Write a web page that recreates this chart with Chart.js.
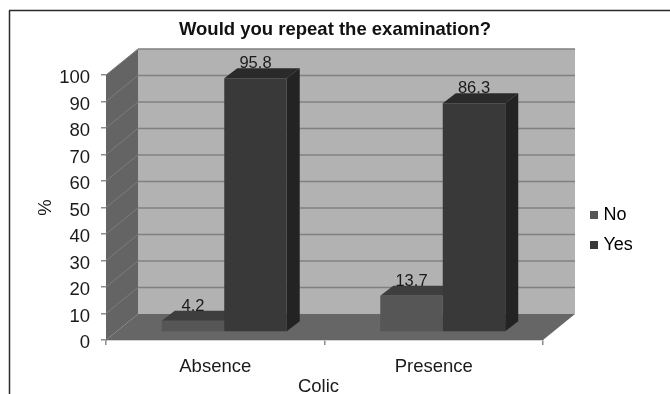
<!DOCTYPE html>
<html lang="en">
<head>
<meta charset="UTF-8">
<title>Would you repeat the examination?</title>
<script src="https://cdn.jsdelivr.net/npm/chart.js@4/dist/chart.umd.min.js"></script>
<style>
    html, body { margin:0; padding:0; background:#fff; }
    #wrap { width:670px; height:394px; }
</style>
</head>
<body>
<div id="wrap"><canvas id="myChart" width="670" height="394"></canvas></div>
<script>
    var v_categories = ["Absence", "Presence"];
    var v_no = [4.2, 13.7];
    var v_yes = [95.8, 86.3];
    var v_yTicks = [0, 10, 20, 30, 40, 50, 60, 70, 80, 90, 100];

    var FONT = "'Liberation Sans', Arial, sans-serif";
    // depth of the box walls and of the bars, in px
    var WALL = { x: 32, y: -26 };
    var BAR_SHIFT = { x: 9, y: -8 };
    var BAR_DEPTH = { x: 13, y: -10 };

    function f_poly(ctx, color, pts) {
        ctx.fillStyle = color;
        ctx.beginPath();
        ctx.moveTo(pts[0][0], pts[0][1]);
        for (var i = 1; i < pts.length; i++) ctx.lineTo(pts[i][0], pts[i][1]);
        ctx.closePath();
        ctx.fill();
    }

    function f_line(ctx, color, w, x1, y1, x2, y2) {
        ctx.strokeStyle = color;
        ctx.lineWidth = w;
        ctx.beginPath();
        ctx.moveTo(x1, y1);
        ctx.lineTo(x2, y2);
        ctx.stroke();
    }

    // page frame, floor and walls of the 3D box
    var boxPlugin = {
        id: "box",
        afterLayout: function(chart) {
            // legend sits lower and further right than the layout would put it
            var lg = chart.legend;
            lg.left = 581.5; lg.right = 668;
            lg.top = 194; lg.bottom = 272;
            // title centred on the whole page, not on the plot
            chart.titleBlock.left = 0;
            chart.titleBlock.right = 670;
        },
        beforeDatasetsDraw: function(chart) {
            var ctx = chart.ctx, a = chart.chartArea, y = chart.scales.y;
            var y0 = y.getPixelForValue(0), y100 = y.getPixelForValue(100);
            ctx.save();
            f_line(ctx, "#2b2b2b", 1.5, 9.5, 394, 9.5, 10.5);
            f_line(ctx, "#2b2b2b", 1.5, 9, 10.5, 670, 10.5);

            f_poly(ctx, "#b2b2b2", [[a.left + WALL.x, y100 + WALL.y], [a.right + WALL.x, y100 + WALL.y],
                                    [a.right + WALL.x, y0 + WALL.y], [a.left + WALL.x, y0 + WALL.y]]);
            f_poly(ctx, "#646464", [[a.left, y100], [a.left + WALL.x, y100 + WALL.y],
                                    [a.left + WALL.x, y0 + WALL.y], [a.left, y0]]);
            f_poly(ctx, "#666666", [[a.left, y0], [a.left + WALL.x, y0 + WALL.y],
                                    [a.right + WALL.x, y0 + WALL.y], [a.right, y0]]);

            v_yTicks.forEach(function(t) {
                var py = y.getPixelForValue(t);
                if (t > 0) {
                    f_line(ctx, "#7c7c7c", 1, a.left, py, a.left + WALL.x, py + WALL.y);
                    f_line(ctx, "#808080", 1.5, a.left + WALL.x, py + WALL.y, a.right + WALL.x, py + WALL.y);
                }
            });

            // top and side faces first: chart.js paints the last dataset first, "No" front
            // would otherwise end up under the faces of "Yes"
            ctx.translate(BAR_SHIFT.x, BAR_SHIFT.y);
            chart.data.datasets.forEach(function(ds, i) {
                chart.getDatasetMeta(i).data.forEach(function(bar) {
                    var l = bar.x - bar.width / 2, r = bar.x + bar.width / 2;
                    f_poly(ctx, ds.v_topColor, [[l, bar.y], [l + BAR_DEPTH.x, bar.y + BAR_DEPTH.y],
                                                [r + BAR_DEPTH.x, bar.y + BAR_DEPTH.y], [r, bar.y]]);
                    f_poly(ctx, ds.v_sideColor, [[r, bar.y], [r + BAR_DEPTH.x, bar.y + BAR_DEPTH.y],
                                                 [r + BAR_DEPTH.x, bar.base + BAR_DEPTH.y], [r, bar.base]]);
                });
            });
            ctx.restore();
        },
        // bars stand in the middle of the floor, so shift them off the axis
        beforeDatasetDraw: function(chart) {
            chart.ctx.save();
            chart.ctx.translate(BAR_SHIFT.x, BAR_SHIFT.y);
        },
        afterDatasetDraw: function(chart) {
            chart.ctx.restore();
        },
        afterDatasetsDraw: function(chart) {
            // value labels above each bar
            var ctx = chart.ctx;
            ctx.save();
            ctx.font = "16.5px " + FONT;
            ctx.fillStyle = "#1a1a1a";
            ctx.textAlign = "center";
            ctx.textBaseline = "alphabetic";
            chart.data.datasets.forEach(function(ds, i) {
                chart.getDatasetMeta(i).data.forEach(function(bar, j) {
                    ctx.fillText(ds.data[j].toFixed(1), bar.x + BAR_SHIFT.x, bar.y + BAR_SHIFT.y + BAR_DEPTH.y);
                });
            });
            // x axis title sits a little left of the axis centre
            var a = chart.chartArea;
            ctx.font = "18.5px " + FONT;
            ctx.fillText("Colic", (a.left + a.right) / 2 - 6, 392);
            ctx.restore();
        }
    };

    const ctx = document.getElementById('myChart').getContext('2d');
    const myChart = new Chart(ctx, {
        type: 'bar',
        data: {
            labels: v_categories,
            datasets: [{
                label: 'No',
                data: v_no,
                backgroundColor: '#565656',
                v_topColor: '#3e3e3e',
                v_sideColor: '#3a3a3a'
            },
            {
                label: 'Yes',
                data: v_yes,
                backgroundColor: '#393939',
                v_topColor: '#2a2a2a',
                v_sideColor: '#232323'
            }]
        },
        plugins: [boxPlugin],
        options: {
            responsive: false,
            animation: false,
            layout: { padding: { left: 35, right: 127, top: 0, bottom: 0 } },
            categoryPercentage: 0.572,
            barPercentage: 1,
            scales: {
                x: {
                    afterFit: function(s) { s.height = 54; },
                    grid: { drawOnChartArea: false, drawTicks: true, tickLength: 5, color: '#8c8c8c', lineWidth: 1.5 },
                    border: { color: '#a8a8a8', width: 1.5 },
                    ticks: { font: { family: FONT, size: 18.5 }, color: '#1a1a1a', padding: 11 }
                },
                y: {
                    min: 0,
                    max: 100,
                    afterFit: function(s) {
                        s.width = 71;
                        // numbers hang slightly below their tick marks
                        var drawLabels = s.drawLabels;
                        s.drawLabels = function(area) {
                            s.ctx.save();
                            s.ctx.translate(0, 1.5);
                            drawLabels.call(s, area);
                            s.ctx.restore();
                        };
                    },
                    afterBuildTicks: function(s) { s.ticks = v_yTicks.map(function(v) { return { value: v }; }); },
                    grid: { drawOnChartArea: false, drawTicks: true, tickLength: 5, color: '#8c8c8c', lineWidth: 1.5 },
                    border: { color: '#636363', width: 1 },
                    ticks: { font: { family: FONT, size: 18.5 }, color: '#1a1a1a', padding: 11, autoSkip: false },
                    title: { display: true, text: '%', font: { family: FONT, size: 18.5 }, color: '#1a1a1a', padding: 0 }
                }
            },
            plugins: {
                title: {
                    display: true,
                    text: 'Would you repeat the examination?',
                    font: { family: FONT, size: 18.5, weight: 'bold' },
                    color: '#111',
                    padding: { top: 19, bottom: 33.8 }
                },
                legend: {
                    position: 'chartArea',
                    align: 'start',
                    labels: {
                        font: { family: FONT, size: 18 },
                        color: '#1a1a1a',
                        boxWidth: 1,
                        boxHeight: 1,
                        padding: 12,
                        generateLabels: function(chart) {
                            return chart.data.datasets.map(function(ds, i) {
                                return { text: ds.label, fillStyle: ds.backgroundColor, strokeStyle: ds.backgroundColor,
                                         lineWidth: 7, datasetIndex: i, hidden: false };
                            });
                        }
                    }
                },
                tooltip: { enabled: false }
            }
        }
    });
</script>
</body>
</html>
